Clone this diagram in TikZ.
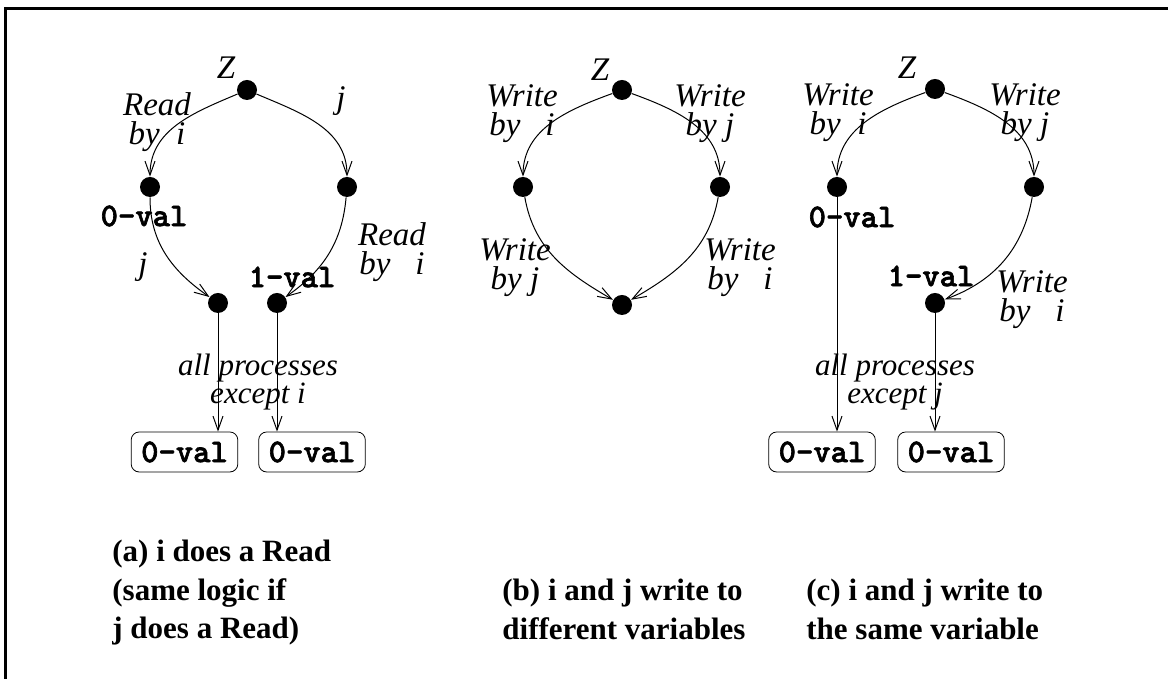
\documentclass[tikz,border=0pt]{standalone}
\usepackage{fontspec}
\setmainfont{Liberation Serif}
\newfontfamily\valfont{lmmonolt10-bold}[Extension=.otf, FakeBold=2]
\usetikzlibrary{arrows.meta}

\begin{document}
\begin{tikzpicture}[
  x=0.5pt, y=0.5pt,
  dot/.style={circle, fill=black, inner sep=0pt, minimum size=10pt},
  lbl/.style={font=\fontsize{16.5}{14.5}\selectfont\itshape, align=center, inner sep=0pt},
  note/.style={font=\fontsize{15.5}{14}\selectfont\itshape, align=center, inner sep=0pt},
  val/.style={font=\fontsize{16.5}{14}\valfont, inner sep=0pt},
  valbox/.style={val, draw, rounded corners=4pt, inner xsep=5pt, minimum height=20pt},
  capnode/.style={font=\fontsize{15.5}{19.25}\selectfont\bfseries, align=left, anchor=north west, inner sep=0pt},
  arr/.style={-{Straight Barb[length=7pt,width=5pt]}, line width=0.5pt}]
\useasboundingbox (0,0) rectangle (1168,679);
\draw[line width=1.5pt] (5,0) |- (1168,670);

% (a) i does a Read
\node[dot] (Za) at (247,589) {};
\node[dot] (La) at (150,492) {};
\node[dot] (Ra) at (347,492) {};
\node[dot] (BLa) at (218,376) {};
\node[dot] (BRa) at (277,376) {};
\node[valbox] (a1) at (184.5,227) {0-val};
\node[valbox] (a2) at (312,227) {0-val};
\node[lbl] (zA) at (226,611) {Z};
\node[lbl] (rdA) at (157,557) {Read\\by~~i};
\node[lbl] (jA) at (341,578) {j};
\node[val] (v0A) at (144,463) {0-val};
\node[lbl] (j2A) at (143,412) {j};
\node[val] (v1A) at (292,402) {1-val};
\node[lbl] (rd2A) at (392,427) {Read\\by~~~i};
\node[note] (allA) at (258,297) {all processes\\except i};

% (b) different variables
\node[dot] (Zb) at (622,589) {};
\node[dot] (Lb) at (523,492) {};
\node[dot] (Rb) at (720,492) {};
\node[dot] (Bb) at (622,374) {};
\node[lbl] (zB) at (600,609) {Z};
\node[lbl] (wiB) at (522,565) {Write\\by~~~i};
\node[lbl] (wjB) at (710,565) {Write\\by j};
\node[lbl] (wj2B) at (515,411) {Write\\by j};
\node[lbl] (wi2B) at (740,411) {Write\\by~~~i};

% (c) same variable
\node[dot] (Zc) at (935,590) {};
\node[dot] (Lc) at (837,492) {};
\node[dot] (Rc) at (1034,492) {};
\node[dot] (Bc) at (935,376) {};
\node[valbox] (c1) at (822,227) {0-val};
\node[valbox] (c2) at (951,227) {0-val};
\node[lbl] (zC) at (907,611) {Z};
\node[lbl] (wiC) at (838,566) {Write\\by~~i};
\node[lbl] (wjC) at (1025,566) {Write\\by j};
\node[val] (v0C) at (852,462) {0-val};
\node[val] (v1C) at (931,403) {1-val};
\node[lbl] (wi2C) at (1032,379) {Write\\by~~~i};
\node[note] (allC) at (895,297) {all processes\\except j};

% captions
\node[capnode] (capA) at (112,139) {(a) i does a Read\\(same logic if\\j does a Read)};
\node[capnode] (capB) at (502,100) {(b) i and j write to\\different variables};
\node[capnode] (capC) at (806,100) {(c) i and j write to\\the same variable};

% edges
\foreach \a/\b/\o/\n in {Za/La/203/90, Za/Ra/-23/90, La/BLa/-90/145, Ra/BRa/-95/35,
    Zb/Lb/200/90, Zb/Rb/-20/90, Lb/Bb/-80/150, Rb/Bb/-100/30,
    Zc/Lc/200/90, Zc/Rc/-20/90, Rc/Bc/-100/20}
  \draw[arr] (\a) to[out=\o,in=\n] (\b);
\foreach \a/\b in {BLa/a1, BRa/a2, Lc/c1, Bc/c2}
  \draw[arr] (\a) -- (\a |- \b.north);
\end{tikzpicture}
\end{document}
